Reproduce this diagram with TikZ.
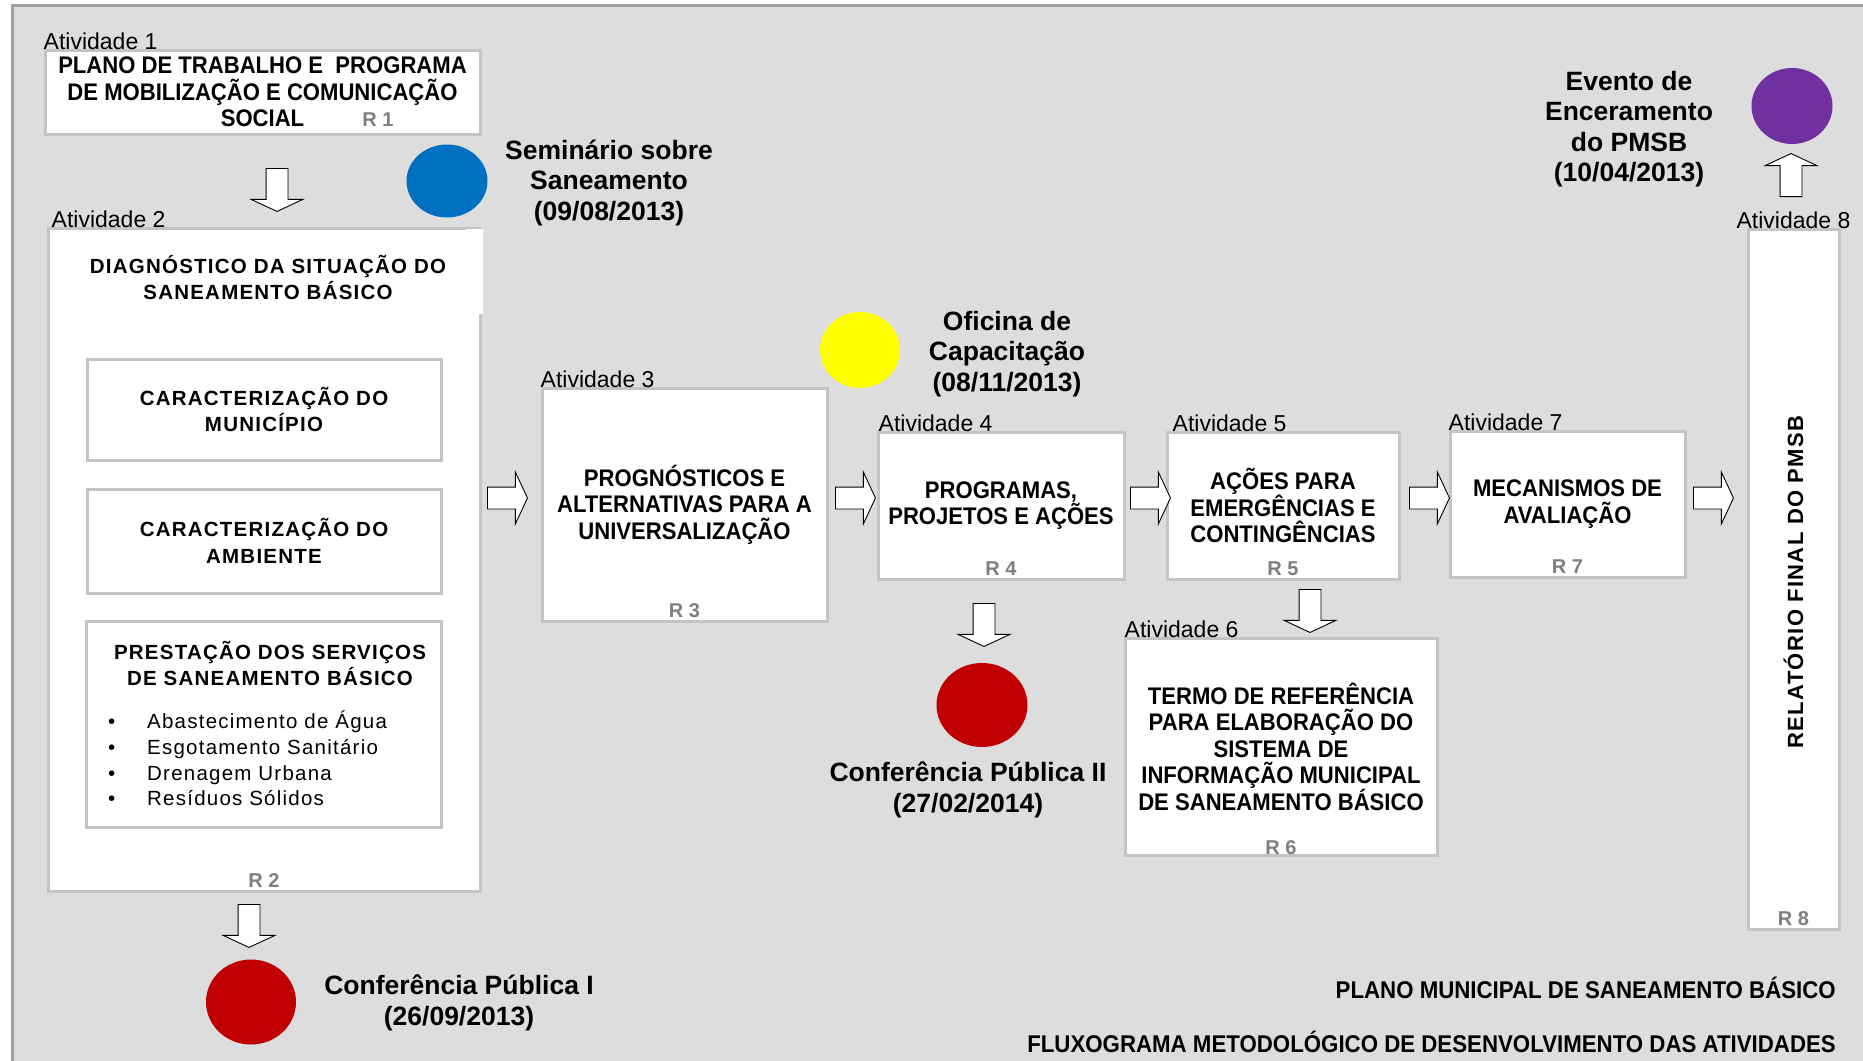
\documentclass[tikz,border=0pt]{standalone}
\usepackage{fontspec}
\setmainfont{Liberation Sans}
\newfontfamily\largo[LetterSpace=6]{Liberation Sans}
\newfontfamily\estreita[FakeStretch=0.92]{Liberation Sans}
\usetikzlibrary{positioning,shapes.arrows,shapes.geometric}
\definecolor{fundo}{HTML}{DDDDDD}
\definecolor{moldura}{HTML}{A0A0A0}
\definecolor{borda}{HTML}{C4C4C4}
\definecolor{cinzaR}{HTML}{7F7F7F}
\definecolor{azul}{HTML}{0070C0}
\definecolor{amarelo}{HTML}{FFFF00}
\definecolor{vermelho}{HTML}{C00000}
\definecolor{roxo}{HTML}{7030A0}

\begin{document}
\begin{tikzpicture}[x=1pt, y=-1pt,
    caixa/.style={draw=borda, line width=3pt, fill=white, inner sep=0pt, align=center,
      font=\fontsize{24}{26.5}\selectfont\estreita\bfseries},
    largotxt/.style={align=center, inner sep=0pt, font=\fontsize{20.5}{26.5}\selectfont\largo\bfseries},
    lista/.style={anchor=west, align=left, inner sep=0pt, font=\fontsize{20.5}{25.7}\selectfont\largo},
    ativ/.style={anchor=south west, inner sep=0pt, font=\fontsize{23}{26}\selectfont},
    rtexto/.style={anchor=base, inner sep=0pt, text=cinzaR, font=\fontsize{20}{24}\selectfont\bfseries},
    evento/.style={ellipse, inner sep=0pt, draw=none},
    chamada/.style={align=center, inner sep=0pt, font=\fontsize{26.5}{30.5}\selectfont\bfseries},
    seta/.style={single arrow, draw=black, fill=white, line width=0.9pt, inner sep=10.5pt,
      minimum height=40pt, single arrow head extend=15pt, single arrow tip angle=130, anchor=tail},
    setabaixo/.style={seta, minimum height=43pt, shape border rotate=270},
    setacima/.style={seta, minimum height=43pt, shape border rotate=90},
    rodape/.style={anchor=east, inner sep=0pt, font=\fontsize{24.2}{26}\selectfont\estreita\bfseries}]
  \clip (0,0) rectangle (1863,1060);
  \fill[white] (0,0) rectangle (1863,1060);
  \draw[fill=fundo, draw=moldura, line width=3pt] (12,5) rectangle (1890,1090);

  % Atividade 1
  \node[caixa, minimum width=435, minimum height=84] (b1) at (262.5,92)
    {PLANO DE TRABALHO E\ \ PROGRAMA\\DE MOBILIZAÇÃO E COMUNICAÇÃO\\SOCIAL};
  \node[ativ] (at1) at ([yshift=-1pt]b1.north west) {Atividade 1};
  \node[rtexto] (r1) at (378,126) {R 1};

  % Atividade 2
  \node[caixa, minimum width=432, minimum height=663] (b2) at (264,559.5) {};
  \fill[white] (466,229) rectangle (483,314);
  \node[ativ] (at2) at ([xshift=5pt,yshift=-1pt]b2.north west) {Atividade 2};
  \node[largotxt] (b2t) at (268,277.5) {DIAGNÓSTICO DA SITUAÇÃO DO\\SANEAMENTO BÁSICO};
  \node[caixa, largotxt, minimum width=354, minimum height=101] (s2a) at (264,409.5)
    {CARACTERIZAÇÃO DO\\MUNICÍPIO};
  \node[caixa, largotxt, minimum width=354, minimum height=104] (s2b) at (264,541)
    {CARACTERIZAÇÃO DO\\AMBIENTE};
  \node[caixa, minimum width=355, minimum height=206] (s2c) at (263.5,724) {};
  \node[largotxt] (s2ct) at (270,663.5) {PRESTAÇÃO DOS SERVIÇOS\\DE SANEAMENTO BÁSICO};
  \node[lista] (s2cl) at (108,758.5) {\makebox[39pt][l]{\textbullet}Abastecimento de Água\\
    \makebox[39pt][l]{\textbullet}Esgotamento Sanitário\\
    \makebox[39pt][l]{\textbullet}Drenagem Urbana\\
    \makebox[39pt][l]{\textbullet}Resíduos Sólidos};
  \node[rtexto] (r2) at ([yshift=5pt]b2.south) {R 2};

  % Atividade 3
  \node[caixa, minimum width=285, minimum height=233] (b3) at (684.5,504.5)
    {PROGNÓSTICOS E\\ALTERNATIVAS PARA A\\UNIVERSALIZAÇÃO};
  \node[ativ] (at3) at ([yshift=-1pt]b3.north west) {Atividade 3};
  \node[rtexto] (r3) at ([yshift=5pt]b3.south) {R 3};

  % Atividade 4
  \node[caixa, minimum width=246, minimum height=147] (b4) at (1001,505.5)
    {PROGRAMAS,\\PROJETOS E AÇÕES};
  \node[ativ] (at4) at ([xshift=2pt,yshift=-1pt]b4.north west) {Atividade 4};
  \node[rtexto] (r4) at ([yshift=5pt]b4.south) {R 4};

  % Atividade 5
  \node[caixa, minimum width=232, minimum height=147] (b5) at (1283,505.5)
    {AÇÕES PARA\\EMERGÊNCIAS E\\CONTINGÊNCIAS};
  \node[ativ] (at5) at ([xshift=7pt,yshift=-1pt]b5.north west) {Atividade 5};
  \node[rtexto] (r5) at ([yshift=5pt]b5.south) {R 5};

  % Atividade 6
  \node[caixa, minimum width=312, minimum height=217] (b6) at (1281,746.5)
    {TERMO DE REFERÊNCIA\\PARA ELABORAÇÃO DO\\SISTEMA DE\\INFORMAÇÃO MUNICIPAL\\DE SANEAMENTO BÁSICO};
  \node[ativ] (at6) at ([xshift=1pt,yshift=-1pt]b6.north west) {Atividade 6};
  \node[rtexto] (r6) at ([yshift=2pt]b6.south) {R 6};

  % Atividade 7
  \node[caixa, minimum width=235, minimum height=146] (b7) at (1567.5,504)
    {MECANISMOS DE\\AVALIAÇÃO};
  \node[ativ] (at7) at ([yshift=-1pt]b7.north west) {Atividade 7};
  \node[rtexto] (r7) at ([yshift=5pt]b7.south) {R 7};

  % Atividade 8
  \node[caixa, minimum width=91, minimum height=700] (b8) at (1793.5,579) {};
  \node[largotxt, rotate=90, font=\fontsize{22}{24}\selectfont\largo\bfseries] (b8t) at (1793.5,582)
    {RELATÓRIO FINAL DO PMSB};
  \node[ativ, anchor=south] (at8) at ([yshift=-1pt]b8.north) {Atividade 8};
  \node[rtexto] (r8) at ([yshift=5pt]b8.south) {R 8};

  % setas
  \node[setabaixo] (d1) at (277,168) {};
  \node[setabaixo] (d2) at (249,904) {};
  \node[setabaixo] (d4) at (984,603) {};
  \node[setabaixo] (d5) at (1310,589) {};
  \node[setacima] (u8) at (1791,197) {};
  \node[seta] (a23) at (487,498) {};
  \node[seta] (a34) at (835,498) {};
  \node[seta] (a45) at (1130,498) {};
  \node[seta] (a57) at (1409,498) {};
  \node[seta] (a78) at (1693,498) {};

  % eventos
  \node[evento, fill=azul, minimum width=81, minimum height=73] (sem) at (447,181) {};
  \node[chamada] (tsem) at (609,183) {Seminário sobre\\Saneamento\\(09/08/2013)};
  \node[evento, fill=amarelo, minimum width=80, minimum height=76] (ofi) at (860,350) {};
  \node[chamada] (tofi) at (1007,354) {Oficina de\\Capacitação\\(08/11/2013)};
  \node[evento, fill=vermelho, minimum width=90, minimum height=85] (cp1) at (251,1002) {};
  \node[chamada] (tcp1) at (459,1003) {Conferência Pública I\\(26/09/2013)};
  \node[evento, fill=vermelho, minimum width=91, minimum height=84] (cp2) at (982,705) {};
  \node[chamada] (tcp2) at (968,790) {Conferência Pública II\\(27/02/2014)};
  \node[evento, fill=roxo, minimum width=81, minimum height=76] (enc) at (1792,106) {};
  \node[chamada] (tenc) at (1629,129) {Evento de\\Enceramento\\do PMSB\\(10/04/2013)};

  % rodape
  \node[rodape] (tit1) at (1836,988) {PLANO MUNICIPAL DE SANEAMENTO BÁSICO};
  \node[rodape] (tit2) at (1836,1042) {FLUXOGRAMA METODOLÓGICO DE DESENVOLVIMENTO DAS ATIVIDADES};
\end{tikzpicture}
\end{document}
